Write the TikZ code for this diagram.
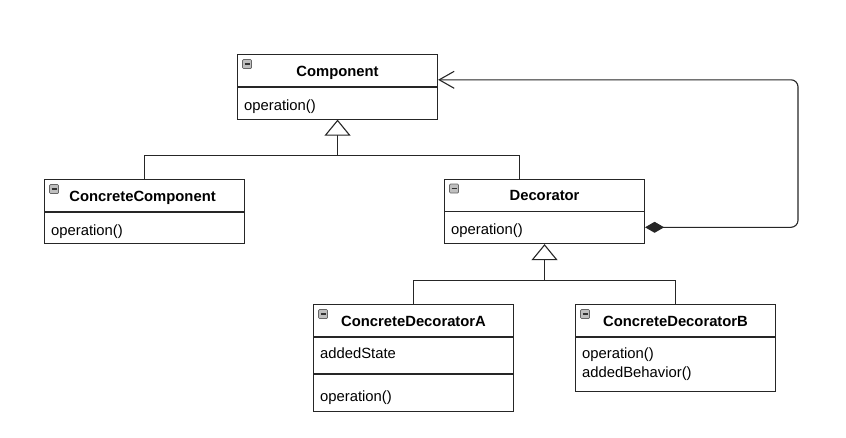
\documentclass[tikz,border=0pt]{standalone}
\usepackage{fontspec}
\setmainfont{Liberation Sans}
\usetikzlibrary{arrows.meta,positioning}

\tikzset{
  umlbox/.style={draw=black!85, line width=1.1pt, anchor=north west,
    minimum width=200pt, inner sep=0pt},
  umltitle/.style={font=\bfseries\fontsize{14.8}{17}\selectfont, anchor=base, inner sep=0pt},
  umltext/.style={font=\fontsize{14.8}{17}\selectfont, anchor=base west, inner sep=0pt},
  umlicon/.style={draw=black!60, fill=black!25, rounded corners=1pt, minimum size=9pt,
    inner sep=0pt, line width=0.7pt,
    path picture={\draw[black!80, line width=1.6pt]
      ([xshift=2pt]path picture bounding box.west) -- ([xshift=-2pt]path picture bounding box.east);}},
  conn/.style={draw=black!85, line width=1.1pt},
  inherit/.style={conn, -{Triangle[open, length=16pt, width=26pt, fill=white]}},
  aggr/.style={conn, rounded corners=7pt,
    {Diamond[length=19pt, width=11pt]}-{Straight Barb[length=15pt, width=17pt]}},
}

\begin{document}
\begin{tikzpicture}[x=1pt, y=-1pt]
\useasboundingbox (0,0) rectangle (846,437);

% classes
\node[umlbox, minimum height=64.5pt] (comp) at (237,54) {};
\node[umlbox, minimum height=64pt] (conc) at (44,179) {};
\node[umlbox, minimum height=64.5pt] (deco) at (444,178.5) {};
\node[umlbox, minimum height=106.5pt] (cda) at (313,304) {};
\node[umlbox, minimum height=86.5pt] (cdb) at (575,304) {};

% compartments
\foreach \c in {comp,conc,deco,cda,cdb}
  \draw[conn] ([yshift=-33pt]\c.north west) -- ([yshift=-33pt]\c.north east);
\draw[conn] ([yshift=-70pt]cda.north west) -- ([yshift=-70pt]cda.north east);

% icons
\foreach \c in {comp,conc,deco,cda,cdb}
  \node[umlicon] (\c icon) at ([shift={(10pt,-10pt)}]\c.north west) {};

% titles
\node[umltitle] (comptitle) at ([yshift=-22pt]comp.north) {Component};
\node[umltitle] (conctitle) at ([shift={(-2pt,-22pt)}]conc.north) {ConcreteComponent};
\node[umltitle] (decotitle) at ([yshift=-22pt]deco.north) {Decorator};
\node[umltitle] (cdatitle) at ([yshift=-22pt]cda.north) {ConcreteDecoratorA};
\node[umltitle] (cdbtitle) at ([yshift=-22pt]cdb.north) {ConcreteDecoratorB};

% members
\node[umltext] (compop) at ([shift={(7pt,-56pt)}]comp.north west) {operation()};
\node[umltext] (concop) at ([shift={(7pt,-56pt)}]conc.north west) {operation()};
\node[umltext] (decoop) at ([shift={(7pt,-56pt)}]deco.north west) {operation()};
\node[umltext] (cdastate) at ([shift={(7pt,-54pt)}]cda.north west) {addedState};
\node[umltext] (cdaop) at ([shift={(7pt,-97pt)}]cda.north west) {operation()};
\node[umltext] (cdbop) at ([shift={(7pt,-54pt)}]cdb.north west) {operation()};
\node[umltext] (cdbbeh) at ([shift={(7pt,-73pt)}]cdb.north west) {addedBehavior()};

% generalisation
\coordinate (j1) at ([yshift=-36pt]comp.south);
\draw[inherit] (j1) -- (comp.south);
\draw[conn] (conc.north) |- (j1) -| ([xshift=-25pt]deco.north);

\coordinate (j2) at ([yshift=-36pt]deco.south);
\draw[inherit] (j2) -- (deco.south);
\draw[conn] (cda.north) |- (j2) -| (cdb.north);

% aggregation
\coordinate (rside) at (798,150);
\draw[aggr] ([yshift=-16pt]deco.east) -| (rside) |- ([yshift=7pt]comp.east);
\end{tikzpicture}
\end{document}
